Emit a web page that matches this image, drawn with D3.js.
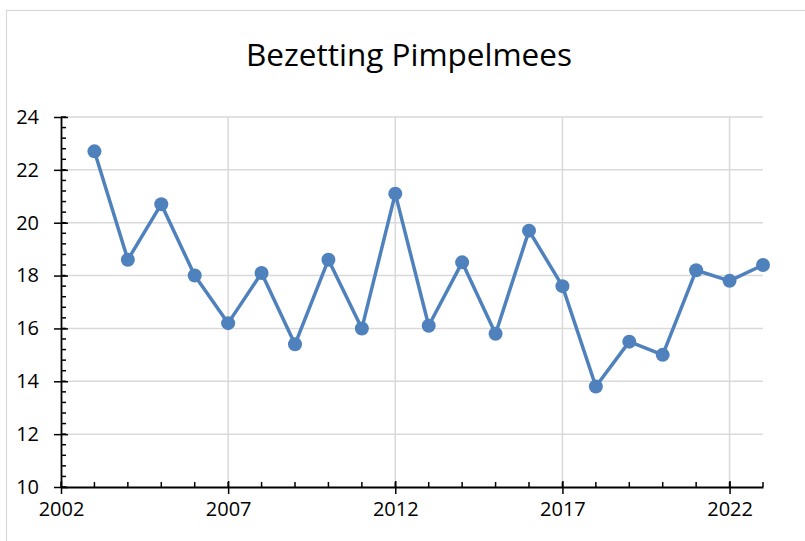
<!DOCTYPE html>
<html>
<head>
<meta charset="utf-8">
<script src="https://cdn.jsdelivr.net/npm/d3@7"></script>
<style>
  html, body { margin: 0; padding: 0; background: #fff; }
  text { font-family: "Open Sans", "Noto Sans", sans-serif; fill: #000; }
</style>
</head>
<body>
<div id="chart"></div>
<script>
// Bezetting Pimpelmees (bezettingsgraad per jaar)
var years = [2003, 2004, 2005, 2006, 2007, 2008, 2009, 2010, 2011, 2012, 2013,
             2014, 2015, 2016, 2017, 2018, 2019, 2020, 2021, 2022, 2023];
var bezetting = [22.7, 18.6, 20.7, 18.0, 16.2, 18.1, 15.4, 18.6, 16.0, 21.1, 16.1,
                 18.5, 15.8, 19.7, 17.6, 13.8, 15.5, 15.0, 18.2, 17.8, 18.4];
var xTicks = [2002, 2007, 2012, 2017, 2022];
var yTicks = [10, 12, 14, 16, 18, 20, 22, 24];
var title = "Bezetting Pimpelmees";

var width = 805, height = 541;
var margin = {top: 117, right: 42, bottom: 54, left: 61};
var w = width - margin.left - margin.right,
    h = height - margin.top - margin.bottom;

var svg = d3.select("#chart").append("svg")
  .attr("width", width)
  .attr("height", height);

// chart border (runs off the right and bottom edge)
svg.append("rect")
  .attr("x", 6.5).attr("y", 10.5)
  .attr("width", 820).attr("height", 560)
  .attr("fill", "none")
  .attr("stroke", "#d9d9d9")
  .attr("stroke-width", 1.2);

svg.append("text")
  .attr("x", 409)
  .attr("y", 66)
  .attr("text-anchor", "middle")
  .style("font-size", "31.5px")
  .text(title);

var g = svg.append("g")
  .attr("transform", "translate(" + margin.left + "," + margin.top + ")");

var x = d3.scaleLinear().domain([2002, 2023]).range([0, w]);
var y = d3.scaleLinear().domain([10, 24]).range([h, 0]);

// gridlines
g.append("g")
  .selectAll("line")
  .data(yTicks.slice(1))
  .enter().append("line")
    .attr("x1", 0).attr("x2", w)
    .attr("y1", function(d) { return y(d); })
    .attr("y2", function(d) { return y(d); })
    .attr("stroke", "#d9d9d9")
    .attr("stroke-width", 1.5);

g.append("g")
  .selectAll("line")
  .data(xTicks.slice(1))
  .enter().append("line")
    .attr("x1", function(d) { return x(d); })
    .attr("x2", function(d) { return x(d); })
    .attr("y1", 0).attr("y2", h)
    .attr("stroke", "#d9d9d9")
    .attr("stroke-width", 1.5);

// minor ticks
var yMinor = d3.range(10, 24.001, 0.4);
g.append("g")
  .selectAll("line")
  .data(yMinor)
  .enter().append("line")
    .attr("x1", 0).attr("x2", 5)
    .attr("y1", function(d) { return y(d); })
    .attr("y2", function(d) { return y(d); })
    .attr("stroke", "#000")
    .attr("stroke-width", 1.5);

var xMinor = d3.range(2002, 2024);
g.append("g")
  .selectAll("line")
  .data(xMinor)
  .enter().append("line")
    .attr("x1", function(d) { return x(d); })
    .attr("x2", function(d) { return x(d); })
    .attr("y1", h).attr("y2", h - 5)
    .attr("stroke", "#000")
    .attr("stroke-width", 1.5);

// axes with cross ticks
var yAxis = g.append("g")
  .call(d3.axisLeft(y).tickValues(yTicks).tickSize(7).tickSizeOuter(0));
yAxis.selectAll(".tick line").attr("x2", 7).attr("x1", -7).attr("stroke-width", 1.5);
yAxis.select(".domain").attr("stroke-width", 1.8);
yAxis.selectAll("text").style("font-size", "20px").attr("fill", "#000")
  .attr("x", -22);

var xAxis = g.append("g")
  .attr("transform", "translate(0," + h + ")")
  .call(d3.axisBottom(x).tickValues(xTicks).tickFormat(d3.format("d"))
    .tickSize(7).tickSizeOuter(0));
xAxis.selectAll(".tick line").attr("y1", -6).attr("y2", 7).attr("stroke-width", 1.5);
xAxis.select(".domain").attr("stroke-width", 1.8);
xAxis.selectAll("text").style("font-size", "20px").attr("fill", "#000")
  .attr("y", 15);

// series
var data = years.map(function(d, i) { return {year: d, value: bezetting[i]}; });

var line = d3.line()
  .x(function(d) { return x(d.year); })
  .y(function(d) { return y(d.value); });

g.append("path")
  .datum(data)
  .attr("fill", "none")
  .attr("stroke", "#4f81bd")
  .attr("stroke-width", 3.5)
  .attr("stroke-linejoin", "round")
  .attr("d", line);

g.selectAll(".dot")
  .data(data)
  .enter().append("circle")
    .attr("class", "dot")
    .attr("cx", function(d) { return x(d.year); })
    .attr("cy", function(d) { return y(d.value); })
    .attr("r", 7)
    .attr("fill", "#4f81bd");
</script>
</body>
</html>
